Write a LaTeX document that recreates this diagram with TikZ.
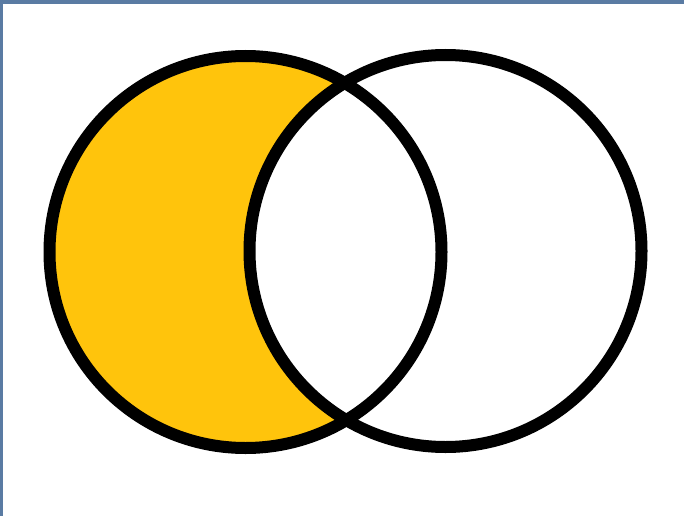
\documentclass[tikz,border=0pt]{standalone}
\definecolor{frameblue}{RGB}{90,123,163}
\definecolor{setyellow}{RGB}{255,196,12}
\tikzset{
  ring/.style={draw=black, line width=12pt},
}
\begin{document}
\begin{tikzpicture}[x=1pt,y=-1pt]
\useasboundingbox (0,0) rectangle (684,516);
\fill[white] (0,0) rectangle (684,516);
\fill[frameblue] (0,0) rectangle (684,4);
\fill[frameblue] (0,0) rectangle (3,516);
\coordinate (A) at (245.5,252);
\coordinate (B) at (445.5,251);
\fill[setyellow] (A) circle[radius=196];
\fill[white] (B) circle[radius=196];
\draw[ring] (A) circle[radius=196];
\draw[ring] (B) circle[radius=196];
\end{tikzpicture}
\end{document}
